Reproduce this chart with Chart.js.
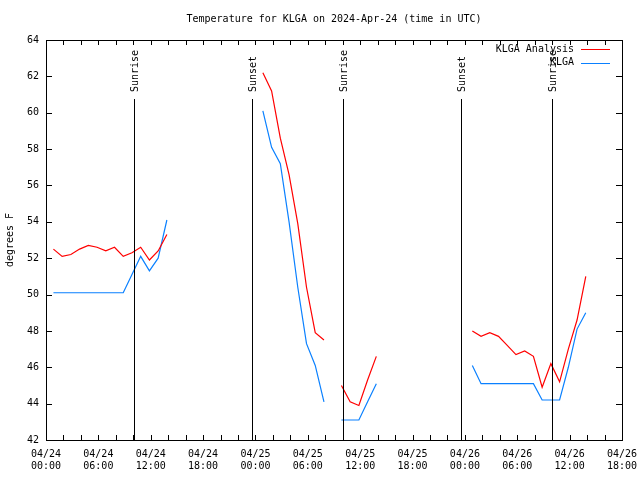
<!DOCTYPE html>
<html>
<head>
<meta charset="utf-8">
<title>Temperature for KLGA</title>
<script src="https://cdn.jsdelivr.net/npm/chart.js@4/dist/chart.umd.min.js"></script>
<style>
  html, body { margin: 0; padding: 0; background: #fff; }
  canvas { display: block; }
</style>
</head>
<body>
<canvas id="tempChart" width="640" height="480"></canvas>
<script>
// observation times, hours after 04/24 00:00 UTC (obs at hh:51)
const obsHours = [
  0.85, 1.85, 2.85, 3.85, 4.85, 5.85, 6.85, 7.85, 8.85, 9.85, 10.85, 11.85, 12.85, 13.85,
  14.85, 15.85, 16.85, 17.85, 18.85, 19.85, 20.85, 21.85, 22.85, 23.85,
  24.85, 25.85, 26.85, 27.85, 28.85, 29.85, 30.85, 31.85, 32.85,
  33.85, 34.85, 35.85, 36.85, 37.85,
  38.85, 39.85, 40.85, 41.85, 42.85, 43.85, 44.85, 45.85, 46.85, 47.85,
  48.85, 49.85, 50.85, 51.85, 52.85, 53.85, 54.85, 55.85, 56.85, 57.85, 58.85, 59.85, 60.85, 61.85
];

const analysisTemps = [
  52.5, 52.1, 52.2, 52.5, 52.7, 52.6, 52.4, 52.6, 52.1, 52.3, 52.6, 51.9, 52.4, 53.3,
  null, null, null, null, null, null, null, null, null, null,
  62.2, 61.2, 58.6, 56.6, 53.9, 50.4, 47.9, 47.5, null,
  45.0, 44.1, 43.9, 45.3, 46.6,
  null, null, null, null, null, null, null, null, null, null,
  48.0, 47.7, 47.9, 47.7, 47.2, 46.7, 46.9, 46.6, 44.9, 46.2, 45.2, 47.0, 48.6, 51.0
];

const observedTemps = [
  50.1, 50.1, 50.1, 50.1, 50.1, 50.1, 50.1, 50.1, 50.1, 51.1, 52.1, 51.3, 52.0, 54.1,
  null, null, null, null, null, null, null, null, null, null,
  60.1, 58.1, 57.2, 54.0, 50.4, 47.3, 46.1, 44.1, null,
  43.1, 43.1, 43.1, 44.1, 45.1,
  null, null, null, null, null, null, null, null, null, null,
  46.1, 45.1, 45.1, 45.1, 45.1, 45.1, 45.1, 45.1, 44.2, 44.2, 44.2, 46.0, 48.1, 49.0
];

// sun events, hours after 04/24 00:00 UTC
const sunHours = [10.13, 23.66, 34.06, 47.6, 58.03];
const sunLabels = ['Sunrise', 'Sunset', 'Sunrise', 'Sunset', 'Sunrise'];

const seriesNames = ['KLGA Analysis', 'KLGA'];
const seriesColors = ['#ff0000', '#0a80ff'];

const FONT = 'DejaVu Sans Mono';

const toPoints = vals => obsHours.map((h, i) => ({ x: h, y: vals[i] }));

const pad2 = n => (n < 10 ? '0' : '') + n;

const gnuplotFrame = {
  id: 'gnuplotFrame',
  afterDatasetsDraw(chart) {
    const { ctx, chartArea: a, scales: { x, y } } = chart;
    ctx.save();
    ctx.strokeStyle = '#000';
    ctx.lineWidth = 1;
    ctx.beginPath();
    // y ticks, both sides
    for (let v = 44; v < 64; v += 2) {
      const py = Math.round(y.getPixelForValue(v)) + 0.5;
      ctx.moveTo(a.left, py); ctx.lineTo(a.left + 6, py);
      ctx.moveTo(a.right, py); ctx.lineTo(a.right - 6, py);
    }
    // x ticks every 2 hours, top and bottom
    for (let h = 2; h < 66; h += 2) {
      const px = Math.round(x.getPixelForValue(h)) + 0.5;
      ctx.moveTo(px, a.bottom); ctx.lineTo(px, a.bottom - 5);
      ctx.moveTo(px, a.top); ctx.lineTo(px, a.top + 5);
    }
    ctx.stroke();
    ctx.strokeRect(Math.round(a.left) + 0.5, Math.round(a.top) + 0.5,
      Math.round(a.right - a.left), Math.round(a.bottom - a.top));

    // sunrise / sunset markers
    ctx.font = '10px "' + FONT + '"';
    ctx.fillStyle = '#000';
    sunHours.forEach((h, i) => {
      const px = Math.round(x.getPixelForValue(h)) + 0.5;
      ctx.beginPath();
      ctx.moveTo(px, 99);
      ctx.lineTo(px, a.bottom);
      ctx.stroke();
      ctx.save();
      ctx.translate(px + 1, 92);
      ctx.rotate(-Math.PI / 2);
      ctx.textAlign = 'left';
      ctx.textBaseline = 'middle';
      ctx.fillText(sunLabels[i], 0, 0);
      ctx.restore();
    });

    // legend, gnuplot style
    ctx.textAlign = 'right';
    ctx.textBaseline = 'middle';
    seriesNames.forEach((name, i) => {
      const ly = 49 + i * 13.5;
      ctx.fillStyle = '#000';
      ctx.fillText(name, 574, ly);
      ctx.strokeStyle = seriesColors[i];
      ctx.beginPath();
      ctx.moveTo(581, Math.round(ly) + 0.5);
      ctx.lineTo(610, Math.round(ly) + 0.5);
      ctx.stroke();
    });
    ctx.restore();
  }
};

new Chart(document.getElementById('tempChart'), {
  type: 'line',
  data: {
    datasets: [
      {
        label: seriesNames[0],
        data: toPoints(analysisTemps),
        borderColor: seriesColors[0],
        borderWidth: 1.2,
        pointRadius: 0,
        spanGaps: false,
        tension: 0
      },
      {
        label: seriesNames[1],
        data: toPoints(observedTemps),
        borderColor: seriesColors[1],
        borderWidth: 1.2,
        pointRadius: 0,
        spanGaps: false,
        tension: 0
      }
    ]
  },
  options: {
    responsive: false,
    animation: false,
    layout: { padding: { top: 0, right: 18, bottom: 0, left: 0 } },
    plugins: {
      legend: { display: false },
      tooltip: { enabled: false },
      title: {
        display: true,
        fullSize: false,
        text: 'Temperature for KLGA on 2024-Apr-24 (time in UTC)',
        color: '#000',
        font: { family: FONT, size: 10, weight: 'normal' },
        padding: { top: 13, bottom: 15 }
      }
    },
    scales: {
      x: {
        type: 'linear',
        min: 0,
        max: 66,
        grid: { display: false, drawTicks: false },
        border: { display: false },
        afterFit(scale) {
          scale.height = 40;
          scale.paddingLeft = 0;
          scale.paddingRight = 0;
        },
        ticks: {
          stepSize: 6,
          autoSkip: false,
          maxRotation: 0,
          padding: 8,
          color: '#000',
          font: { family: FONT, size: 10 },
          callback: v => ['04/' + (24 + Math.floor(v / 24)), pad2(v % 24) + ':00']
        }
      },
      y: {
        min: 42,
        max: 64,
        grid: { display: false, drawTicks: false },
        border: { display: false },
        afterFit(scale) { scale.width = 46; },
        title: {
          display: true,
          text: 'degrees F',
          color: '#000',
          font: { family: FONT, size: 10 },
          padding: { top: 4, bottom: 0 }
        },
        ticks: {
          stepSize: 2,
          padding: 7,
          color: '#000',
          font: { family: FONT, size: 10 }
        }
      }
    }
  },
  plugins: [gnuplotFrame]
});
</script>
</body>
</html>
